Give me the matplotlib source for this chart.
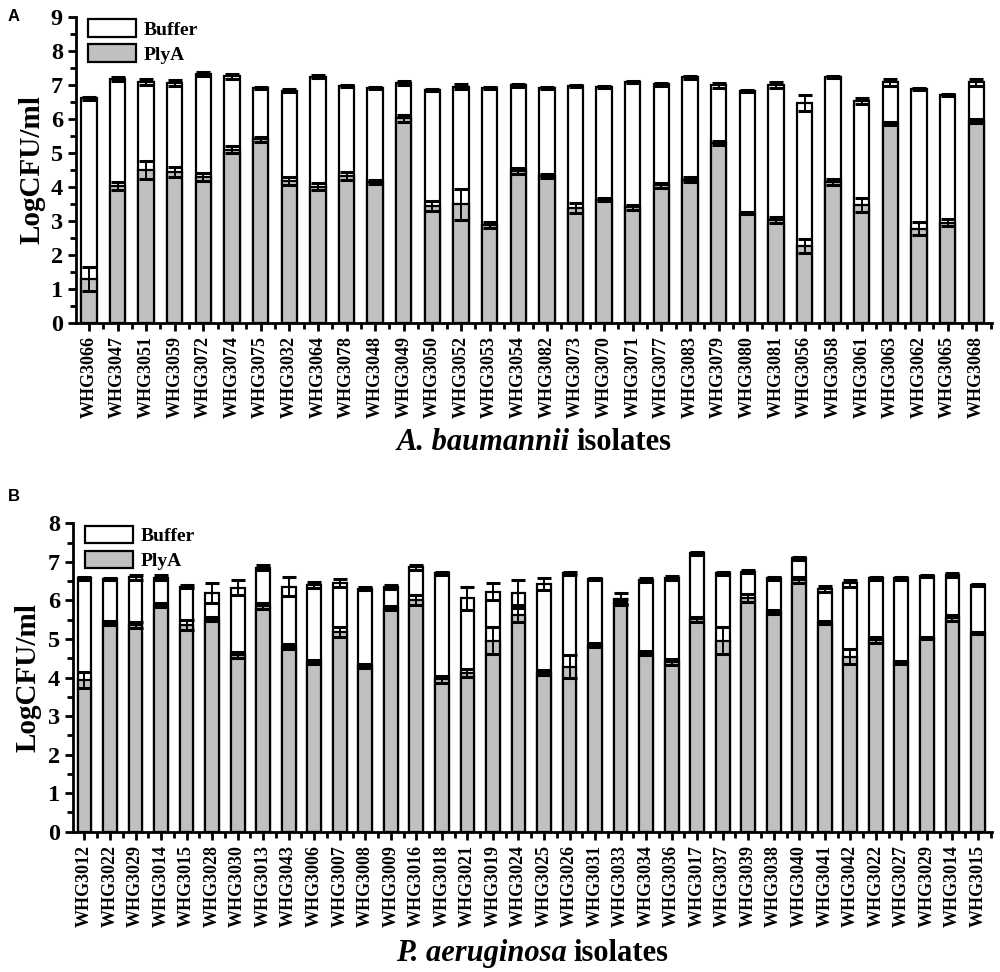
import numpy as np
import matplotlib
matplotlib.use("Agg")
import matplotlib.pyplot as plt
from matplotlib.ticker import MultipleLocator, FixedLocator
from matplotlib.offsetbox import TextArea, HPacker, AnchoredOffsetbox

plt.rcParams['font.family'] = ['Liberation Serif', 'DejaVu Serif']
plt.rcParams['font.weight'] = 'bold'

# panel A - A. baumannii
labels_a = ["WHG3066", "WHG3047", "WHG3051", "WHG3059", "WHG3072", "WHG3074", "WHG3075", "WHG3032",
            "WHG3064", "WHG3078", "WHG3048", "WHG3049", "WHG3050", "WHG3052", "WHG3053", "WHG3054",
            "WHG3082", "WHG3073", "WHG3070", "WHG3071", "WHG3077", "WHG3083", "WHG3079", "WHG3080",
            "WHG3081", "WHG3056", "WHG3058", "WHG3061", "WHG3063", "WHG3062", "WHG3065", "WHG3068"]
buffer_a = [6.60, 7.17, 7.09, 7.05, 7.32, 7.25, 6.90, 6.83, 7.24, 6.97, 6.92, 7.05, 6.86, 6.95, 6.92, 6.99,
            6.91, 6.97, 6.93, 7.07, 7.02, 7.22, 6.99, 6.83, 7.00, 6.47, 7.22, 6.53, 7.07, 6.88, 6.70, 7.07]
buffer_a_err = [0.05, 0.06, 0.08, 0.09, 0.07, 0.07, 0.03, 0.04, 0.04, 0.03, 0.03, 0.06, 0.03, 0.07, 0.03, 0.04,
                0.03, 0.04, 0.03, 0.03, 0.04, 0.04, 0.07, 0.03, 0.09, 0.23, 0.03, 0.08, 0.11, 0.03, 0.03, 0.11]
plya_a = [1.30, 4.03, 4.50, 4.44, 4.30, 5.09, 5.40, 4.17, 4.01, 4.32, 4.15, 6.02, 3.44, 3.49, 2.89, 4.47,
          4.32, 3.39, 3.63, 3.40, 4.05, 4.22, 5.28, 3.24, 3.03, 2.26, 4.15, 3.47, 5.87, 2.78, 2.95, 5.94]
plya_a_err = [0.35, 0.12, 0.25, 0.15, 0.12, 0.10, 0.07, 0.12, 0.10, 0.12, 0.05, 0.10, 0.15, 0.45, 0.08, 0.08,
              0.05, 0.15, 0.05, 0.08, 0.07, 0.08, 0.06, 0.03, 0.10, 0.20, 0.10, 0.20, 0.05, 0.20, 0.10, 0.05]

# panel B - P. aeruginosa
labels_b = ["WHG3012", "WHG3022", "WHG3029", "WHG3014", "WHG3015", "WHG3028", "WHG3030", "WHG3013",
            "WHG3043", "WHG3006", "WHG3007", "WHG3008", "WHG3009", "WHG3016", "WHG3018", "WHG3021",
            "WHG3019", "WHG3024", "WHG3025", "WHG3026", "WHG3031", "WHG3033", "WHG3034", "WHG3036",
            "WHG3017", "WHG3037", "WHG3039", "WHG3038", "WHG3040", "WHG3041", "WHG3042", "WHG3022",
            "WHG3027", "WHG3029", "WHG3014", "WHG3015"]
buffer_b = [6.57, 6.55, 6.60, 6.59, 6.36, 6.19, 6.33, 6.85, 6.36, 6.40, 6.46, 6.30, 6.34, 6.86, 6.70, 6.06,
            6.23, 6.20, 6.42, 6.70, 6.55, 6.05, 6.53, 6.59, 7.22, 6.70, 6.75, 6.57, 7.09, 6.29, 6.44, 6.57,
            6.57, 6.64, 6.66, 6.40]
buffer_b_err = [0.03, 0.03, 0.06, 0.06, 0.03, 0.26, 0.20, 0.06, 0.25, 0.08, 0.10, 0.04, 0.05, 0.06, 0.05, 0.30,
                0.22, 0.33, 0.15, 0.05, 0.03, 0.15, 0.05, 0.05, 0.03, 0.05, 0.05, 0.05, 0.03, 0.08, 0.10, 0.05,
                0.03, 0.03, 0.06, 0.03]
plya_b = [3.94, 5.41, 5.36, 5.88, 5.36, 5.51, 4.58, 5.86, 4.80, 4.40, 5.19, 4.30, 5.80, 6.01, 3.95, 4.11,
          4.95, 5.62, 4.13, 4.28, 4.84, 5.97, 4.63, 4.41, 5.51, 4.96, 6.06, 5.71, 6.53, 5.42, 4.54, 4.97,
          4.39, 5.02, 5.54, 5.15]
plya_b_err = [0.20, 0.05, 0.08, 0.05, 0.12, 0.05, 0.07, 0.08, 0.06, 0.06, 0.13, 0.05, 0.05, 0.12, 0.08, 0.10,
              0.35, 0.18, 0.07, 0.30, 0.05, 0.08, 0.05, 0.08, 0.07, 0.35, 0.10, 0.05, 0.08, 0.04, 0.20, 0.07,
              0.05, 0.03, 0.07, 0.03]

grey = '#c0c0c0'


def panel(ax, labels, buf, buf_err, ply, ply_err, ymax, species, label_y):
    x = np.arange(len(labels))
    w = 0.54
    ax.bar(x, buf, w, color='white', edgecolor='black', linewidth=1.6, label='Buffer', zorder=2)
    ax.bar(x, ply, w, color=grey, edgecolor='black', linewidth=1.6, label='PlyA', zorder=3)
    ax.errorbar(x, buf, yerr=buf_err, fmt='none', ecolor='black', elinewidth=1.4,
                capsize=5, capthick=2.2, zorder=4)
    ax.errorbar(x, ply, yerr=ply_err, fmt='none', ecolor='black', elinewidth=1.4,
                capsize=5, capthick=2.2, zorder=4)
    ax.set_xlim(-0.45, len(labels) - 0.45)
    ax.set_ylim(0, ymax)
    ax.spines['top'].set_visible(False)
    ax.spines['right'].set_visible(False)
    ax.spines['left'].set_linewidth(2)
    ax.spines['bottom'].set_linewidth(2)
    ax.set_xticks(x)
    ax.set_xticklabels(labels, rotation=90, fontsize=13, fontweight='bold')
    ax.xaxis.set_minor_locator(FixedLocator(x + 0.5))
    ax.yaxis.set_major_locator(MultipleLocator(1))
    ax.yaxis.set_minor_locator(MultipleLocator(0.5))
    ax.tick_params(axis='both', which='major', direction='out', length=6, width=2)
    ax.tick_params(axis='both', which='minor', direction='out', length=4, width=2)
    ax.tick_params(axis='y', labelsize=17.5)
    for t in ax.get_yticklabels():
        t.set_fontweight('bold')
    ax.set_ylabel('LogCFU/ml', fontsize=21, fontweight='bold', labelpad=4)

    # x label: italic species name + "isolates"
    t1 = TextArea(species, textprops=dict(fontsize=22, fontweight='bold', style='italic'))
    t2 = TextArea('isolates', textprops=dict(fontsize=22, fontweight='bold'))
    box = HPacker(children=[t1, t2], align='baseline', pad=0, sep=5)
    ab = AnchoredOffsetbox(loc='center', child=box, pad=0, borderpad=0, frameon=False,
                           bbox_to_anchor=(0.5, label_y), bbox_transform=ax.transAxes)
    ax.add_artist(ab)

    ax.legend(loc='upper left', bbox_to_anchor=(0.0, 1.03), frameon=False, fontsize=14,
              handlelength=2.5, handleheight=1.0, labelspacing=0.3, handletextpad=0.4,
              borderaxespad=0.2)


fig = plt.figure(figsize=(10, 9.72), dpi=100)
ax1 = fig.add_axes([0.076, 0.6674, 0.916, 0.3154])
ax2 = fig.add_axes([0.073, 0.1443, 0.919, 0.3173])

panel(ax1, labels_a, buffer_a, buffer_a_err, plya_a, plya_a_err, 9, 'A. baumannii', -0.39)
panel(ax2, labels_b, buffer_b, buffer_b_err, plya_b, plya_b_err, 8, 'P. aeruginosa', -0.395)

fig.text(0.008, 0.983, 'A', fontsize=12, fontweight='bold', family='Liberation Sans', va='center')
fig.text(0.008, 0.489, 'B', fontsize=12, fontweight='bold', family='Liberation Sans', va='center')

fig.savefig('out.png', dpi=100, facecolor='white')
